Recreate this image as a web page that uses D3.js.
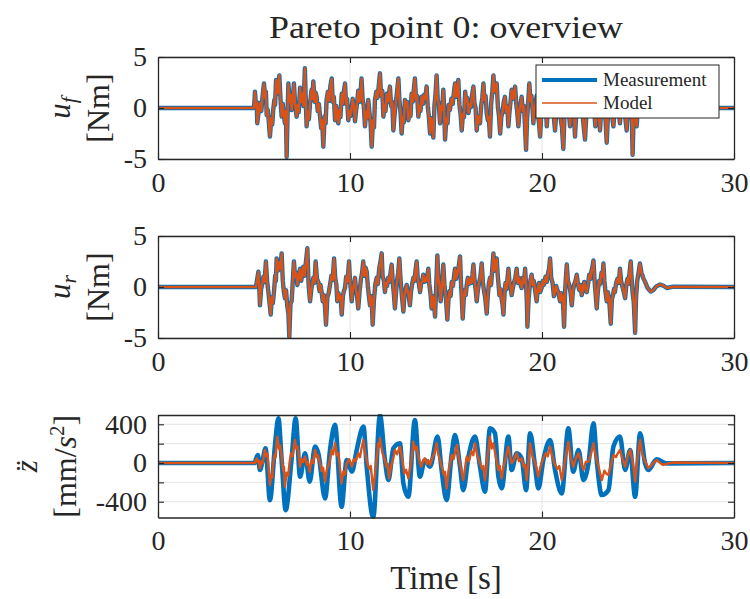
<!DOCTYPE html>
<html>
<head>
<meta charset="utf-8">
<script src="https://cdn.jsdelivr.net/npm/d3@7"></script>
<style>
  body { margin: 0; background: #fff; }
  text { font-family: "Liberation Serif", "Times New Roman", serif; fill: #262626; }
</style>
</head>
<body>
<svg id="chart" width="750" height="599"></svg>
<script>
// ---- time axis ----
const xTicks = [0, 10, 20, 30];

// ---- front actuator torque u_f [Nm], samples as [time s, torque] ----
const ufMeasured = [[0,0],[5.0,0],[5.03,0.9],[5.05,1.6],[5.1,0.2],[5.14,0.6],[5.17,-1.5],[5.24,-0.4],[5.31,0.5],[5.38,-0.3],
  [5.45,1.2],[5.52,2.4],[5.58,1.0],[5.62,1.6],[5.66,-0.7],[5.72,-0.2],[5.77,-1.3],[5.83,-2.8],[5.9,-1.0],[5.95,-1.6],
  [6.0,-0.2],[6.06,0.8],[6.1,0.3],[6.15,2.75],[6.22,1.4],[6.27,2.2],[6.32,3.2],[6.38,0.9],[6.44,-0.85],[6.5,0.4],
  [6.55,-0.6],[6.61,-1.5],[6.66,-0.3],[6.7,-4.8],[6.75,-0.5],[6.79,2.4],[6.86,0.6],[6.9,1.3],[6.96,-0.2],[7.02,0.9],
  [7.08,2.4],[7.14,0.4],[7.22,-0.85],[7.28,0.3],[7.33,-0.4],[7.4,2.0],[7.46,0.6],[7.53,1.4],[7.58,0.2],[7.65,3.9],
  [7.7,0.5],[7.74,-1.8],[7.8,-0.4],[7.86,-1.1],[7.92,0.5],[8.0,1.8],[8.04,0.9],[8.09,2.6],[8.16,0.6],[8.21,1.5],
  [8.26,1.1],[8.32,-0.3],[8.38,0.4],[8.44,-0.85],[8.5,-2.0],[8.55,-1.2],[8.61,-3.8],[8.68,-0.8],[8.73,-1.5],[8.78,0.8],
  [8.85,1.6],[8.92,0.7],[8.98,2.2],[9.05,2.9],[9.1,0.6],[9.16,1.1],[9.22,-1.2],[9.28,0.2],[9.33,-0.6],[9.39,-1.5],
  [9.45,-0.2],[9.5,-0.9],[9.57,1.4],[9.62,0.4],[9.68,1.6],[9.74,2.4],[9.8,0.4],[9.85,0.9],[9.91,-1.2],[9.97,-0.3],
  [10.02,-0.8],[10.09,0.1],[10.14,0.9],[10.2,0.3],[10.26,-1.3],[10.32,-0.2],[10.37,0.5],[10.43,1.7],[10.5,0.6],[10.55,1.4],
  [10.6,2.9],[10.66,0.8],[10.72,0.2],[10.78,-1.8],[10.84,-0.4],[10.9,-1.0],[10.95,0.8],[11.02,-0.6],[11.07,-1.4],[11.13,-3.8],
  [11.2,-1.2],[11.25,-1.9],[11.3,0.8],[11.37,1.6],[11.43,1.0],[11.5,2.2],[11.56,3.4],[11.62,1.2],[11.68,1.7],[11.74,-0.85],
  [11.8,0.3],[11.85,-0.3],[11.91,1.4],[11.97,0.6],[12.02,1.2],[12.08,2.1],[12.14,0.2],[12.2,0.6],[12.26,-2.2],[12.32,-0.7],
  [12.38,0.4],[12.45,1.6],[12.52,2.9],[12.57,0.9],[12.63,-0.4],[12.69,-2.5],[12.75,-0.9],[12.8,-1.4],[12.86,0.8],[12.92,0.1],
  [12.98,0.6],[13.04,-1.2],[13.1,-0.4],[13.15,-0.8],[13.21,1.4],[13.27,0.6],[13.32,1.7],[13.38,2.9],[13.44,0.8],[13.5,1.2],
  [13.56,-0.85],[13.62,0.2],[13.67,-0.3],[13.73,1.1],[13.8,0.4],[13.86,1.3],[13.92,0.9],[13.99,2.1],[14.05,0.2],[14.1,-0.7],
  [14.17,-2.5],[14.22,-1.0],[14.28,-1.6],[14.34,-2.9],[14.4,0.3],[14.45,1.2],[14.51,3.2],[14.57,0.8],[14.63,0.3],[14.69,-1.5],
  [14.75,0.2],[14.8,-0.2],[14.86,1.8],[14.9,0.2],[14.95,-3.1],[15.02,-1.0],[15.08,-1.5],[15.14,0.3],[15.2,-0.2],[15.28,0.9],
  [15.35,0.4],[15.41,1.5],[15.47,2.4],[15.53,1.1],[15.58,1.6],[15.64,2.75],[15.7,0.3],[15.76,-0.6],[15.82,-2.2],[15.88,-0.6],
  [15.94,-0.9],[16.0,1.6],[16.06,0.6],[16.11,1.0],[16.17,-0.5],[16.24,0.4],[16.3,0.1],[16.36,1.3],[16.43,2.1],[16.48,0.5],
  [16.54,0.0],[16.6,-2.2],[16.66,-0.8],[16.71,-1.1],[16.77,-1.5],[16.83,0.2],[16.89,1.0],[16.95,2.4],[17.0,0.8],[17.06,1.2],
  [17.12,-0.5],[17.18,-1.2],[17.23,-0.9],[17.29,-2.8],[17.35,0.4],[17.41,1.6],[17.47,3.2],[17.53,1.6],[17.58,1.9],[17.64,2.4],
  [17.7,0.2],[17.76,-0.8],[17.82,-2.5],[17.88,-0.9],[17.95,-0.3],[18.01,0.6],[18.07,1.1],[18.13,-0.4],[18.19,0.2],[18.25,-1.8],
  [18.3,-0.5],[18.36,0.6],[18.42,1.8],[18.48,0.9],[18.54,1.3],[18.6,2.1],[18.66,0.4],[18.71,-0.4],[18.77,-1.8],[18.83,-0.2],
  [18.88,0.4],[18.94,1.1],[19.0,-0.3],[19.06,0.2],[19.11,-1.6],[19.17,-4.1],[19.22,-1.2],[19.28,0.6],[19.34,2.4],[19.4,0.7],
  [19.45,1.2],[19.5,0.1],[19.55,-1.5],[19.6,-0.2],[19.66,0.4],[19.72,1.2],[19.78,-0.6],[19.84,-1.4],[19.9,-2.8],[19.96,-0.8],
  [20.02,-0.2],[20.08,0.5],[20.14,-0.4],[20.2,0.2],[20.25,-1.8],[20.3,-0.2],[20.36,1.2],[20.42,2.6],[20.48,0.8],[20.54,1.1],
  [20.6,-0.6],[20.68,-2.2],[20.74,-0.6],[20.8,0.4],[20.85,-0.3],[20.9,0.2],[20.97,-1.0],[21.04,-1.9],[21.11,-4.0],[21.17,-0.8],
  [21.23,0.6],[21.29,2.0],[21.35,0.6],[21.4,-0.4],[21.46,-1.8],[21.52,-0.3],[21.56,0.3],[21.6,0.8],[21.66,-0.6],[21.72,-2.8],
  [21.78,-0.7],[21.84,0.2],[21.9,-0.3],[21.95,1.0],[22.02,-0.2],[22.08,0.3],[22.14,-1.2],[22.24,-3.1],[22.3,-1.0],[22.36,-0.2],
  [22.45,0.5],[22.5,1.3],[22.55,0.9],[22.6,2.4],[22.66,0.8],[22.72,-0.4],[22.78,-1.8],[22.84,-0.5],[22.9,0.6],[22.96,-0.5],
  [23.02,-2.2],[23.08,-0.4],[23.14,0.8],[23.2,2.1],[23.26,0.3],[23.31,-1.2],[23.37,-3.4],[23.43,-1.0],[23.49,-0.2],[23.55,0.4],
  [23.61,-0.4],[23.66,-0.9],[23.72,-1.8],[23.78,-0.2],[23.84,0.6],[23.9,1.5],[23.96,0.2],[24.01,-0.6],[24.06,-1.5],[24.12,0.1],
  [24.16,0.5],[24.2,1.2],[24.26,-0.2],[24.33,-0.8],[24.41,-2.2],[24.47,0.1],[24.52,1.0],[24.58,2.3],[24.64,0.4],[24.68,-1.4],
  [24.72,-4.6],[24.77,-1.0],[24.82,0.8],[24.87,-0.3],[24.93,-1.8],[24.99,-0.2],[25.05,0.3],[25.12,0],[30,0]];
// the model torque coincides with the measured one at this scale
const ufModel = ufMeasured;

// ---- rear actuator torque u_r [Nm], samples as [time s, torque] ----
const urMeasured = [[0,0],[5.1,0],[5.16,0.7],[5.23,1.5],[5.27,0.2],[5.31,-1.8],[5.37,-0.2],[5.43,0.3],[5.49,1.0],[5.55,0.5],
  [5.62,2.5],[5.68,0.6],[5.75,-0.5],[5.8,-1.4],[5.87,-2.7],[5.93,-1.0],[5.98,-1.6],[6.04,-0.5],[6.1,1.1],[6.14,0.6],
  [6.18,2.8],[6.25,1.6],[6.31,2.4],[6.37,1.8],[6.44,3.3],[6.5,0.6],[6.55,-0.4],[6.61,-1.1],[6.67,-0.3],[6.73,-1.8],
  [6.79,-2.6],[6.84,-4.9],[6.9,-1.6],[6.96,-1.4],[7.02,0.6],[7.08,2.5],[7.14,1.0],[7.2,1.4],[7.26,0.2],[7.33,1.0],
  [7.4,1.8],[7.46,0.6],[7.51,1.2],[7.57,2.0],[7.63,1.1],[7.7,2.4],[7.78,3.8],[7.84,0.4],[7.88,-0.6],[7.92,-1.4],
  [7.98,-0.3],[8.03,0.3],[8.09,0.9],[8.15,0.4],[8.21,2.5],[8.28,0.8],[8.35,0.5],[8.41,-0.4],[8.46,0.2],[8.52,-0.5],
  [8.58,-1.4],[8.64,-0.8],[8.7,-2.0],[8.75,-3.7],[8.82,-1.0],[8.89,-0.6],[8.96,0.2],[9.03,1.1],[9.1,0.7],[9.17,2.8],
  [9.23,0.9],[9.29,0.2],[9.34,-1.4],[9.4,-0.6],[9.46,-1.2],[9.51,-0.9],[9.57,-2.7],[9.63,-0.9],[9.68,-0.4],[9.74,-0.1],
  [9.8,1.0],[9.87,0.5],[9.95,2.5],[10.0,0.6],[10.04,-0.2],[10.09,-1.4],[10.14,-0.3],[10.2,0.2],[10.26,0.9],[10.32,-0.4],
  [10.37,-0.9],[10.43,-2.1],[10.5,-0.4],[10.57,0.8],[10.63,1.4],[10.69,2.5],[10.75,1.1],[10.81,1.9],[10.87,1.5],[10.93,0.1],
  [10.98,-0.8],[11.04,-1.8],[11.1,-0.9],[11.14,-1.6],[11.18,-3.7],[11.25,-1.2],[11.32,0.3],[11.39,0.9],[11.45,0.3],[11.52,1.8],
  [11.58,2.4],[11.65,3.3],[11.7,1.0],[11.76,0.7],[11.82,-0.5],[11.88,0.4],[11.93,0.1],[11.99,0.9],[12.05,0.5],[12.11,1.4],
  [12.17,2.2],[12.23,0.4],[12.28,-0.6],[12.34,-2.1],[12.4,-0.5],[12.45,0.6],[12.51,1.4],[12.57,2.8],[12.63,0.8],[12.7,-0.8],
  [12.78,-2.4],[12.84,-0.8],[12.9,-0.2],[12.95,0.2],[13.0,-0.4],[13.06,-0.8],[13.12,-1.8],[13.18,-0.4],[13.24,0.3],[13.3,0.9],
  [13.36,0.6],[13.41,1.6],[13.47,2.5],[13.53,0.8],[13.59,0.3],[13.65,-0.5],[13.7,0.3],[13.76,0.6],[13.82,1.2],[13.88,0.5],
  [13.94,0.9],[14.0,0.6],[14.08,1.8],[14.13,0.3],[14.19,-0.6],[14.25,-2.1],[14.31,-0.9],[14.37,-1.4],[14.43,-2.9],[14.49,0.1],
  [14.55,3.1],[14.6,0.9],[14.66,0.3],[14.72,-1.4],[14.77,-0.3],[14.81,0.6],[14.86,2.2],[14.92,0.2],[15.0,-1.2],[15.07,-3.2],
  [15.13,-1.2],[15.19,-0.4],[15.24,-0.9],[15.3,0.5],[15.36,0.1],[15.41,0.9],[15.47,1.8],[15.53,0.8],[15.6,1.4],[15.66,2.0],
  [15.73,3.0],[15.78,0.4],[15.82,-1.0],[15.87,-3.1],[15.93,-1.0],[15.98,-0.3],[16.03,-0.8],[16.08,0.2],[16.14,0.9],[16.2,0.3],
  [16.27,0.8],[16.33,0.4],[16.38,1.2],[16.43,2.2],[16.49,0.6],[16.54,-0.2],[16.6,-1.4],[16.66,-0.3],[16.72,0.4],[16.79,1.0],
  [16.86,2.3],[16.92,0.5],[16.98,-0.4],[17.04,-1.0],[17.08,-1.8],[17.12,-2.6],[17.18,-0.8],[17.23,0.3],[17.29,0.9],[17.35,0.2],
  [17.41,1.8],[17.47,3.3],[17.52,1.6],[17.58,2.2],[17.64,2.8],[17.7,1.0],[17.74,0.2],[17.78,-0.8],[17.84,-0.2],[17.9,-1.2],
  [17.95,-1.8],[17.99,-2.7],[18.05,-0.6],[18.1,0.4],[18.16,-0.2],[18.2,0.8],[18.25,1.8],[18.3,0.6],[18.36,0.1],[18.42,-0.8],
  [18.48,-0.1],[18.55,0.5],[18.61,0.9],[18.68,1.8],[18.74,0.4],[18.8,0.9],[18.87,0.3],[18.94,-0.1],[19.0,0.9],[19.06,0.4],
  [19.12,1.8],[19.17,0.2],[19.21,-1.4],[19.24,-3.9],[19.3,-1.2],[19.35,-0.2],[19.4,0.7],[19.46,1.2],[19.52,0.2],[19.57,0.6],
  [19.64,-0.3],[19.72,-1.4],[19.78,-0.2],[19.84,0.4],[19.9,-0.5],[19.98,-0.1],[20.04,0.6],[20.1,0.2],[20.18,1.0],[20.25,0.5],
  [20.32,1.4],[20.37,1.8],[20.42,2.8],[20.48,0.9],[20.55,0.4],[20.62,-0.9],[20.68,-0.5],[20.74,0.1],[20.8,-0.3],[20.87,-0.7],
  [20.94,-1.4],[21.0,-0.6],[21.06,-0.9],[21.1,-1.8],[21.15,-3.9],[21.2,-0.6],[21.24,0.8],[21.29,2.2],[21.35,0.6],[21.42,0.2],
  [21.49,-0.6],[21.55,-1.8],[21.61,-0.4],[21.67,0.2],[21.74,0.6],[21.81,1.2],[21.87,0.3],[21.94,-0.3],[22.0,0.2],[22.07,-0.8],
  [22.13,-0.2],[22.2,0.5],[22.26,-0.2],[22.33,-0.5],[22.4,0.3],[22.46,1.2],[22.52,0.8],[22.58,1.6],[22.63,2.0],[22.68,2.6],
  [22.73,0.8],[22.78,-0.4],[22.85,-2.1],[22.91,-0.4],[22.97,0.6],[23.03,0.3],[23.1,1.4],[23.15,1.0],[23.2,2.3],[23.25,0.6],
  [23.3,-0.4],[23.37,-1.4],[23.43,-0.5],[23.5,-1.2],[23.58,-3.6],[23.64,-1.2],[23.7,-0.8],[23.75,-0.2],[23.8,-0.5],[23.86,0.4],
  [23.93,0.8],[24.0,0.4],[24.06,1.8],[24.12,0.6],[24.18,0.1],[24.25,-0.4],[24.33,-1.1],[24.39,0.2],[24.45,0.8],[24.5,0.3],
  [24.56,1.4],[24.62,2.5],[24.67,0.8],[24.72,-0.6],[24.78,-1.5],[24.85,-4.5],[24.9,-1.0],[24.96,0.6],[25.03,1.4],[25.1,2.3],
  [25.18,1.4],[25.27,0.9],[25.37,0.5],[25.5,-0.1],[25.66,-0.45],[25.8,-0.3],[25.94,0.03],[26.15,0.25],[26.35,0.1],[26.5,-0.1],
  [26.85,0.03],[30,0]];
// the model torque coincides with the measured one at this scale
const urModel = urMeasured;

// ---- vertical body acceleration [mm/s^2], samples as [time s, value] ----
const zMeasured = [[0,0],[5.05,0],[5.1,40],[5.2,83],[5.31,-72],[5.45,30],[5.6,152],[5.83,-383],[6.1,200],[6.27,463],
  [6.44,31],[6.65,-487],[6.96,50],[7.17,463],[7.4,-142],[7.66,100],[7.9,-193],[8.18,169],[8.35,100],[8.7,-366],
  [8.96,135],[9.22,394],[9.56,-452],[9.83,31],[10.1,-90],[10.35,135],[10.7,376],[10.87,-38],[11.21,-563],[11.56,496],
  [11.82,31],[12.0,-176],[12.26,152],[12.6,204],[12.78,-210],[13.04,-349],[13.38,445],[13.64,-142],[13.9,31],[14.17,-38],
  [14.56,273],[14.77,-72],[15.03,-383],[15.3,100],[15.47,290],[15.73,-38],[15.9,-280],[16.17,65],[16.51,273],[16.77,-38],
  [17.03,-297],[17.29,359],[17.55,307],[17.73,-142],[17.9,-262],[18.25,273],[18.42,-72],[18.68,100],[18.94,48],[19.17,-280],
  [19.38,307],[19.64,-38],[19.81,-262],[20.07,31],[20.42,238],[20.68,-72],[21.03,-314],[21.37,359],[21.63,-90],[21.9,135],
  [22.16,-176],[22.42,-3],[22.68,411],[22.85,31],[23.11,-331],[23.46,-280],[23.72,169],[24.06,273],[24.33,-72],[24.59,135],
  [24.85,-349],[25.11,307],[25.37,-3],[25.54,-72],[25.97,38],[26.5,-4],[30,0]];
const zModel = [[0,0],[5.05,0],[5.1,30],[5.14,48],[5.2,10],[5.25,25],[5.31,-55],[5.4,20],[5.45,-5],[5.57,135],
  [5.63,70],[5.7,95],[5.83,-228],[5.9,-120],[5.95,-150],[6.0,-3],[6.08,90],[6.13,60],[6.21,273],[6.3,150],
  [6.36,180],[6.44,65],[6.52,-80],[6.56,-40],[6.61,-245],[6.7,-100],[6.78,-130],[6.87,31],[6.95,100],[7.0,70],
  [7.13,238],[7.2,150],[7.27,170],[7.4,-38],[7.48,40],[7.55,10],[7.66,65],[7.75,-20],[7.8,10],[7.9,-90],
  [8.0,30],[8.08,0],[8.18,135],[8.27,60],[8.33,80],[8.44,-3],[8.52,-80],[8.6,-50],[8.7,-193],[8.8,-60],
  [8.9,-20],[9.04,135],[9.12,90],[9.22,204],[9.32,80],[9.4,100],[9.56,-210],[9.65,-90],[9.73,-120],[9.83,-3],
  [9.95,40],[10.02,10],[10.1,-38],[10.2,40],[10.3,20],[10.43,100],[10.52,60],[10.6,150],[10.7,238],[10.8,90],
  [10.92,-20],[11.0,-60],[11.08,-30],[11.21,-280],[11.3,-120],[11.38,20],[11.47,204],[11.52,170],[11.56,256],[11.68,110],
  [11.82,31],[11.9,-40],[11.96,-10],[12.03,-159],[12.15,-20],[12.25,40],[12.34,135],[12.45,90],[12.6,169],[12.7,60],
  [12.83,-107],[12.92,-70],[13.04,-159],[13.15,-30],[13.22,60],[13.3,221],[13.38,140],[13.47,169],[13.58,50],[13.7,-38],
  [13.8,20],[13.9,48],[14.0,-10],[14.08,30],[14.17,-20],[14.3,60],[14.4,100],[14.51,204],[14.6,90],[14.68,40],
  [14.77,-38],[14.88,-120],[14.95,-90],[15.03,-262],[15.15,-60],[15.3,83],[15.4,40],[15.47,110],[15.56,187],[15.68,40],
  [15.78,-60],[15.9,-176],[16.0,-40],[16.08,65],[16.2,20],[16.32,120],[16.42,80],[16.51,204],[16.62,90],[16.77,-3],
  [16.88,-60],[16.95,-30],[17.03,-176],[17.15,40],[17.29,273],[17.38,150],[17.47,204],[17.6,60],[17.73,-72],[17.8,-30],
  [17.9,-159],[18.0,-40],[18.12,60],[18.25,169],[18.33,80],[18.42,-3],[18.55,40],[18.68,100],[18.8,20],[18.94,48],
  [19.05,-40],[19.12,-20],[19.2,-176],[19.3,30],[19.38,204],[19.5,80],[19.64,-3],[19.72,-60],[19.81,-141],[19.93,-30],
  [20.07,48],[20.2,100],[20.3,70],[20.42,169],[20.55,60],[20.68,-20],[20.8,-60],[20.9,-30],[21.03,-176],[21.15,-40],
  [21.25,80],[21.37,221],[21.5,60],[21.63,-38],[21.75,40],[21.9,100],[22.02,20],[22.16,-72],[22.28,10],[22.42,14],
  [22.55,90],[22.68,204],[22.76,110],[22.85,31],[22.97,-60],[23.11,-176],[23.25,-80],[23.35,-110],[23.46,-124],[23.6,-10],
  [23.72,83],[23.85,60],[23.95,100],[24.06,135],[24.2,40],[24.33,-38],[24.45,60],[24.59,135],[24.7,30],[24.78,-60],
  [24.85,-193],[24.95,20],[25.03,130],[25.11,238],[25.22,100],[25.37,14],[25.54,-55],[25.75,-10],[25.97,30],[26.3,-20],
  [26.8,5],[30,0]];

// ---- axis ticks / legend entries ----
const torqueTicks = [-5, 0, 5];
const torqueTickLabels = ["-5", "0", "5"];
const accelTicks = [-400, -200, 0, 200, 400];
const accelTickLabels = ["-400", "", "0", "", "400"];
const seriesNames = ["Measurement", "Model"];

// ---- styling ----
const seriesColors = ["#0072BD", "#D95319"];
const axisColor = "#262626";
const gridColor = "#e4e4e4";

const svg = d3.select("#chart");
const plotLeft = 158, plotRight = 734;
const x = d3.scaleLinear().domain([0, 30]).range([plotLeft, plotRight]);

const panels = [
  { top: 57, bottom: 159, domain: [-5, 5], ticks: torqueTicks, labels: torqueTickLabels,
    series: [ufMeasured, ufModel], widths: [4.4, 2.5], smooth: false, ylabel: "uf" },
  { top: 236, bottom: 338, domain: [-5, 5], ticks: torqueTicks, labels: torqueTickLabels,
    series: [urMeasured, urModel], widths: [4.4, 2.5], smooth: false, ylabel: "ur" },
  { top: 415, bottom: 517.5, domain: [-563, 496], ticks: accelTicks, labels: accelTickLabels,
    series: [zMeasured, zModel], widths: [4.6, 2.4], smooth: true, ylabel: "z" }
];

const defs = svg.append("defs");

panels.forEach((p, i) => {
  const y = d3.scaleLinear().domain(p.domain).range([p.bottom, p.top]);
  const g = svg.append("g");

  defs.append("clipPath").attr("id", "clip" + i)
    .append("rect")
    .attr("x", plotLeft).attr("y", p.top - 1)
    .attr("width", plotRight - plotLeft).attr("height", p.bottom - p.top + 2);

  // grid
  g.append("g").selectAll("line").data(xTicks.slice(1, -1)).join("line")
    .attr("x1", d => x(d)).attr("x2", d => x(d))
    .attr("y1", p.top).attr("y2", p.bottom)
    .attr("stroke", gridColor).attr("stroke-width", 1);
  g.append("g").selectAll("line").data(p.ticks).join("line")
    .attr("x1", plotLeft).attr("x2", plotRight)
    .attr("y1", d => y(d)).attr("y2", d => y(d))
    .attr("stroke", gridColor).attr("stroke-width", 1);

  // signals: measurement underneath, model on top
  p.series.forEach((s, k) => {
    const line = d3.line().x(d => x(d[0])).y(d => y(d[1]))
      .curve(p.smooth && k === 0 ? d3.curveMonotoneX : d3.curveLinear);
    g.append("path")
      .attr("d", line(s))
      .attr("fill", "none")
      .attr("stroke", seriesColors[k])
      .attr("stroke-width", p.widths[k])
      .attr("stroke-linejoin", "round")
      .attr("stroke-linecap", "round")
      .attr("clip-path", "url(#clip" + i + ")");
  });

  // axes (inward ticks, box on)
  const styleAxis = sel => {
    sel.attr("font-family", null).attr("font-size", null);
    sel.select(".domain").attr("stroke", axisColor).attr("stroke-width", 1.3).attr("fill", "none");
    sel.selectAll(".tick line").attr("stroke", axisColor).attr("stroke-width", 1.1);
    sel.selectAll(".tick text").attr("fill", axisColor).style("font-size", "28px");
  };
  g.append("g").attr("transform", `translate(0,${p.bottom})`)
    .call(d3.axisBottom(x).tickValues(xTicks).tickFormat(d3.format("d"))
      .tickSizeInner(-6).tickSizeOuter(0).tickPadding(13))
    .call(styleAxis);
  g.append("g").attr("transform", `translate(0,${p.top})`)
    .call(d3.axisTop(x).tickValues(xTicks).tickFormat("")
      .tickSizeInner(-6).tickSizeOuter(0))
    .call(styleAxis);
  g.append("g").attr("transform", `translate(${plotLeft},0)`)
    .call(d3.axisLeft(y).tickValues(p.ticks).tickFormat((d, j) => p.labels[j])
      .tickSizeInner(-6).tickSizeOuter(0).tickPadding(11))
    .call(styleAxis);
  g.append("g").attr("transform", `translate(${plotRight},0)`)
    .call(d3.axisRight(y).tickValues(p.ticks).tickFormat("")
      .tickSizeInner(-6).tickSizeOuter(0))
    .call(styleAxis);

  // y-axis label (two rotated lines)
  const cy = (p.top + p.bottom) / 2;
  const l1 = svg.append("text")
    .attr("transform", `translate(${i === 2 ? 37 : 70},${cy}) rotate(-90)`)
    .attr("text-anchor", "middle").style("font-size", "31px");
  const l2 = svg.append("text")
    .attr("transform", `translate(${i === 2 ? 76 : 109},${cy}) rotate(-90)`)
    .attr("text-anchor", "middle").style("font-size", "32px");
  if (p.ylabel === "z") {
    l1.append("tspan").style("font-style", "italic").text("z\u0308");
    l2.append("tspan").text("[mm/");
    l2.append("tspan").style("font-style", "italic").text("s");
    l2.append("tspan").attr("dy", -12).style("font-size", "21px").text("2");
    l2.append("tspan").attr("dy", 12).text("]");
  } else {
    l1.append("tspan").style("font-style", "italic").text("u");
    l1.append("tspan").attr("dy", 6).style("font-style", "italic")
      .style("font-size", "22px").text(p.ylabel.slice(1));
    l2.text("[Nm]");
  }
});

// title and x label
svg.append("text").attr("x", (plotLeft + plotRight) / 2).attr("y", 38)
  .attr("text-anchor", "middle").style("font-size", "32px")
  .attr("textLength", 354).attr("lengthAdjust", "spacingAndGlyphs")
  .text("Pareto point 0: overview");
svg.append("text").attr("x", (plotLeft + plotRight) / 2).attr("y", 589)
  .attr("text-anchor", "middle").style("font-size", "33px")
  .text("Time [s]");

// legend
const lg = svg.append("g").attr("transform", "translate(536,65)");
lg.append("rect").attr("width", 183).attr("height", 53)
  .attr("fill", "#fff").attr("stroke", axisColor).attr("stroke-width", 1);
seriesNames.forEach((name, k) => {
  const yy = 15 + k * 23;
  lg.append("line").attr("x1", 6).attr("x2", 61).attr("y1", yy).attr("y2", yy)
    .attr("stroke", seriesColors[k]).attr("stroke-width", k ? 1.7 : 3.8);
  lg.append("text").attr("x", 67).attr("y", yy + 6).style("font-size", "19px").text(name);
});
</script>
</body>
</html>
